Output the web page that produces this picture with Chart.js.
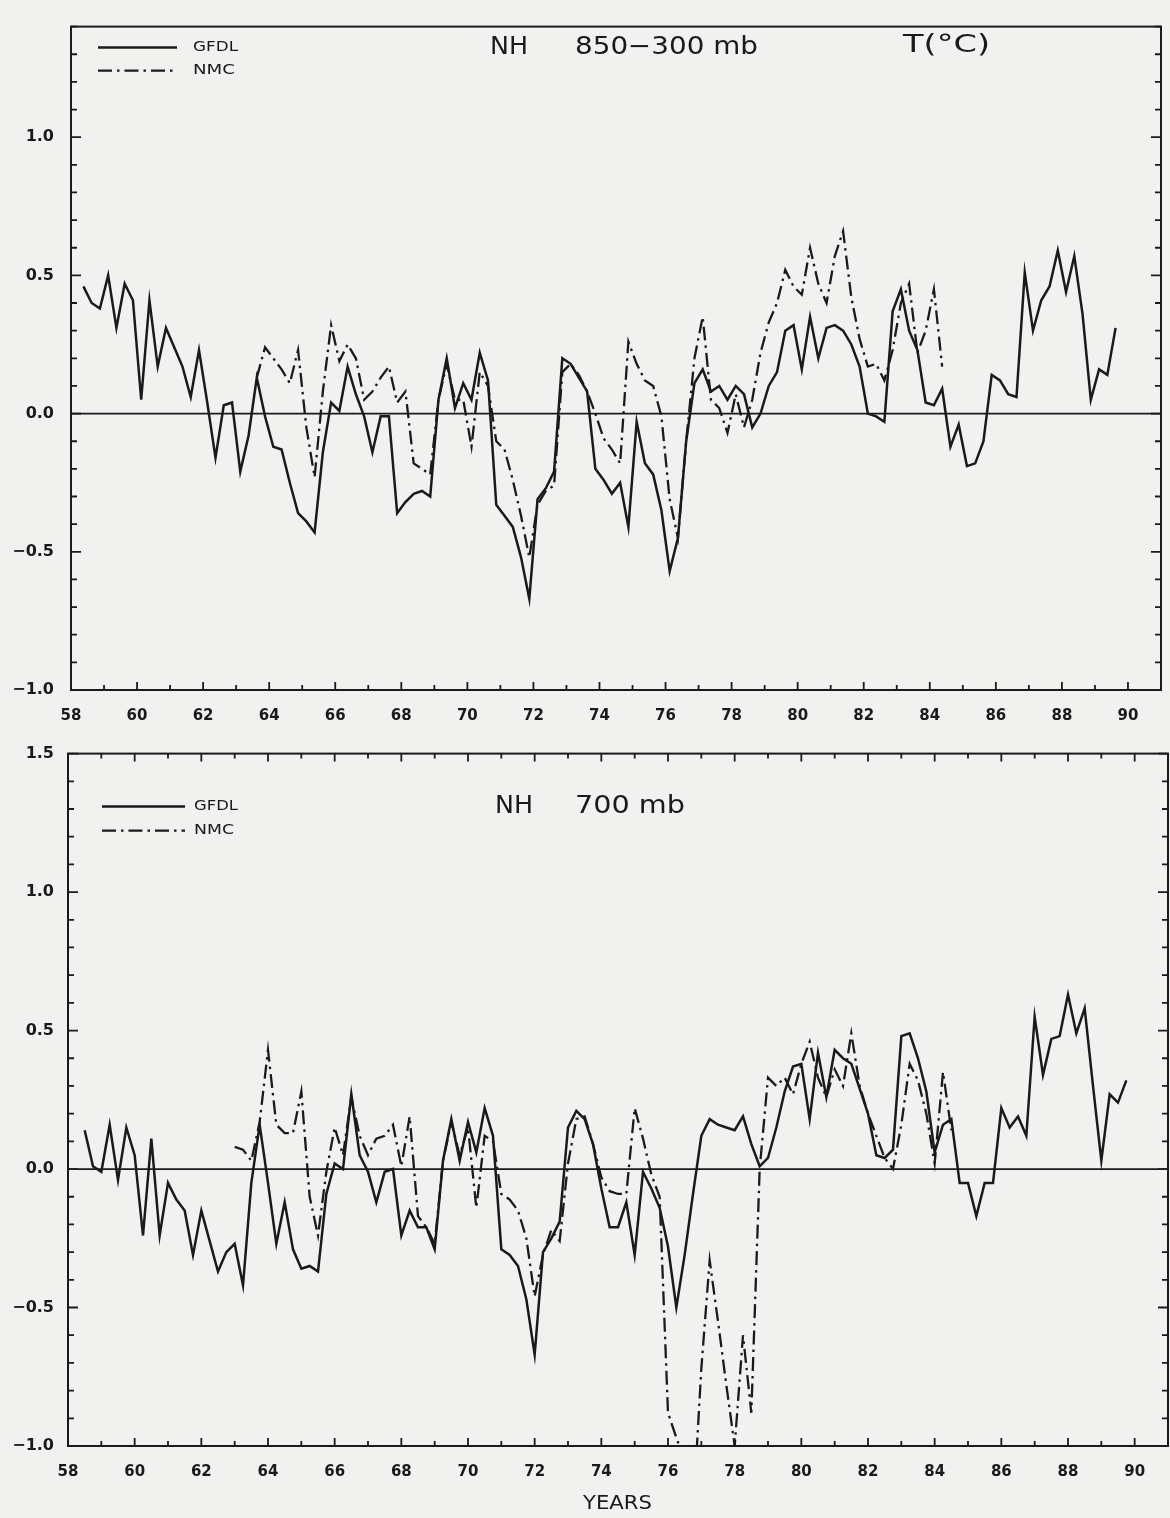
<!DOCTYPE html>
<html>
<head>
<meta charset="utf-8">
<script src="https://cdn.jsdelivr.net/npm/chart.js@4.4.1/dist/chart.umd.min.js"></script>
<style>
  html, body { margin: 0; padding: 0; background: #f1f2f0; }
  #page { position: relative; width: 1170px; height: 1518px; overflow: hidden; }
  #topWrap { position: absolute; left: 0; top: 0; }
  #lowWrap { position: absolute; left: 0; top: 730px; }
</style>
</head>
<body>
<div id="page">
  <div id="topWrap"><canvas id="topChart" width="1170" height="735"></canvas></div>
  <div id="lowWrap"><canvas id="lowChart" width="1170" height="788"></canvas></div>
</div>
<script>
// seasonal means, one value every quarter year
const firstSeasonTop = 58.375;
const firstSeasonLow = 58.5;
const seasonStep = 0.25;

const xTickLabels = [58, 60, 62, 64, 66, 68, 70, 72, 74, 76, 78, 80, 82, 84, 86, 88, 90];
const yTicksTop = [-1.0, -0.5, 0.0, 0.5, 1.0];
const yTicksLow = [-1.0, -0.5, 0.0, 0.5, 1.0, 1.5];

// NH 850-300 mb
const gfdlTop = [
  0.46, 0.40, 0.38, 0.50, 0.31, 0.47, 0.41, 0.05, 0.41, 0.17,
  0.31, 0.24, 0.17, 0.06, 0.23, 0.04, -0.16, 0.03, 0.04, -0.21,
  -0.08, 0.13, -0.01, -0.12, -0.13, -0.25, -0.36, -0.39, -0.43, -0.14,
  0.04, 0.01, 0.17, 0.07, -0.01, -0.14, -0.01, -0.01, -0.36, -0.32,
  -0.29, -0.28, -0.30, 0.05, 0.20, 0.02, 0.11, 0.05, 0.22, 0.12,
  -0.33, -0.37, -0.41, -0.52, -0.67, -0.31, -0.27, -0.21, 0.20, 0.18,
  0.13, 0.08, -0.20, -0.24, -0.29, -0.25, -0.41, -0.03, -0.18, -0.22,
  -0.35, -0.57, -0.45, -0.10, 0.11, 0.16, 0.08, 0.10, 0.05, 0.10,
  0.07, -0.05, 0.00, 0.10, 0.15, 0.30, 0.32, 0.16, 0.35, 0.20,
  0.31, 0.32, 0.30, 0.25, 0.17, 0.00, -0.01, -0.03, 0.37, 0.45,
  0.30, 0.23, 0.04, 0.03, 0.09, -0.12, -0.04, -0.19, -0.18, -0.10,
  0.14, 0.12, 0.07, 0.06, 0.51, 0.30, 0.41, 0.46, 0.59, 0.44,
  0.57, 0.36, 0.05, 0.16, 0.14, 0.31
];
const nmcTopStart = 21;
const nmcTop = [
  0.13, 0.24, 0.20, 0.16, 0.11, 0.23, -0.05, -0.23, 0.08, 0.32,
  0.19, 0.25, 0.20, 0.05, 0.08, 0.13, 0.17, 0.04, 0.08, -0.18,
  -0.20, -0.22, 0.05, 0.18, 0.05, 0.05, -0.12, 0.15, 0.10, -0.10,
  -0.13, -0.24, -0.37, -0.52, -0.33, -0.28, -0.26, 0.15, 0.18, 0.14,
  0.08, 0.00, -0.09, -0.13, -0.18, 0.26, 0.18, 0.12, 0.10, -0.01,
  -0.31, -0.45, -0.10, 0.20, 0.35, 0.05, 0.02, -0.07, 0.07, -0.05,
  0.05, 0.22, 0.33, 0.40, 0.52, 0.46, 0.43, 0.60, 0.47, 0.40,
  0.57, 0.66, 0.42, 0.27, 0.17, 0.18, 0.12, 0.23, 0.40, 0.47,
  0.22, 0.30, 0.45, 0.17
];

// NH 700 mb
const gfdlLow = [
  0.14, 0.01, -0.01, 0.16, -0.04, 0.15, 0.05, -0.24, 0.11, -0.24,
  -0.05, -0.11, -0.15, -0.31, -0.15, -0.26, -0.37, -0.30, -0.27, -0.42,
  -0.05, 0.16, -0.05, -0.27, -0.12, -0.29, -0.36, -0.35, -0.37, -0.09,
  0.02, 0.00, 0.27, 0.05, -0.01, -0.12, -0.01, 0.00, -0.24, -0.15,
  -0.21, -0.21, -0.29, 0.03, 0.18, 0.03, 0.17, 0.06, 0.22, 0.12,
  -0.29, -0.31, -0.35, -0.47, -0.67, -0.30, -0.25, -0.19, 0.15, 0.21,
  0.18, 0.09, -0.07, -0.21, -0.21, -0.12, -0.31, -0.01, -0.07, -0.14,
  -0.28, -0.50, -0.31, -0.09, 0.12, 0.18, 0.16, 0.15, 0.14, 0.19,
  0.09, 0.01, 0.04, 0.15, 0.28, 0.37, 0.38, 0.18, 0.42, 0.26,
  0.43, 0.40, 0.38, 0.29, 0.20, 0.05, 0.04, 0.07, 0.48, 0.49,
  0.40, 0.28, 0.06, 0.16, 0.18, -0.05, -0.05, -0.17, -0.05, -0.05,
  0.22, 0.15, 0.19, 0.12, 0.55, 0.34, 0.47, 0.48, 0.63, 0.49,
  0.58, 0.30, 0.03, 0.27, 0.24, 0.32
];
const nmcLowStart = 18;
const nmcLow = [
  0.08, 0.07, 0.03, 0.17, 0.43, 0.16, 0.13, 0.13, 0.28, -0.10,
  -0.24, -0.01, 0.15, 0.05, 0.26, 0.12, 0.05, 0.11, 0.12, 0.16,
  0.01, 0.19, -0.17, -0.21, -0.27, 0.03, 0.17, 0.05, 0.15, -0.14,
  0.12, 0.10, -0.09, -0.11, -0.15, -0.25, -0.46, -0.31, -0.22, -0.26,
  0.02, 0.18, 0.19, 0.09, -0.03, -0.08, -0.09, -0.09, 0.22, 0.11,
  -0.02, -0.10, -0.88, -0.97, -1.05, -1.25, -0.72, -0.33, -0.55, -0.78,
  -1.00, -0.60, -0.88, 0.00, 0.33, 0.30, 0.33, 0.27, 0.38, 0.46,
  0.33, 0.26, 0.36, 0.30, 0.49, 0.30, 0.20, 0.12, 0.04, 0.00,
  0.16, 0.38, 0.32, 0.20, 0.02, 0.35, 0.14
];

const ink = '#1a1a1a';
const fontFamily = '"DejaVu Sans", Verdana, sans-serif';

function seasonPoints(vals, first, start) {
  return vals.map((v, i) => ({ x: first + (start + i) * seasonStep, y: v }));
}

function fmtY(v) {
  return (v < 0 ? '\u2212' : '') + Math.abs(v).toFixed(1);
}

// draws text stretched to a given width (plotter lettering is wide)
function fitText(ctx, text, x, y, width) {
  const w = ctx.measureText(text).width;
  ctx.save();
  ctx.translate(x, y);
  ctx.scale(width / w, 1);
  ctx.fillText(text, 0, 0);
  ctx.restore();
}

const plotterFrame = {
  id: 'plotterFrame',
  beforeDatasetsDraw(chart) {
    const { ctx, chartArea: a, scales: { y } } = chart;
    const y0 = y.getPixelForValue(0);
    ctx.save();
    ctx.strokeStyle = ink;
    ctx.lineWidth = 1.8;
    ctx.beginPath();
    ctx.moveTo(a.left, y0);
    ctx.lineTo(a.right, y0);
    ctx.stroke();
    ctx.restore();
  },
  afterDraw(chart, args, opts) {
    const { ctx, chartArea: a, scales: { x, y } } = chart;
    ctx.save();
    ctx.strokeStyle = ink;
    ctx.fillStyle = ink;
    ctx.lineWidth = 2;
    ctx.strokeRect(a.left, a.top, a.right - a.left, a.bottom - a.top);

    // inward ticks: every 0.1 on the value axis, every year on the time axis
    ctx.lineWidth = 1.8;
    ctx.beginPath();
    for (let k = Math.round(y.min * 10); k <= Math.round(y.max * 10); k++) {
      const py = y.getPixelForValue(k / 10);
      const len = k % 5 === 0 ? 10 : 6;
      ctx.moveTo(a.left, py); ctx.lineTo(a.left + len, py);
      ctx.moveTo(a.right, py); ctx.lineTo(a.right - len, py);
    }
    for (let yr = Math.ceil(x.min); yr <= Math.floor(x.max); yr++) {
      const px = x.getPixelForValue(yr);
      const len = yr % 2 === 0 ? 8 : 5;
      ctx.moveTo(px, a.bottom); ctx.lineTo(px, a.bottom - len);
      if (opts.topTicks) { ctx.moveTo(px, a.top); ctx.lineTo(px, a.top + len); }
    }
    ctx.stroke();

    // legend, drawn with each dataset's own line style
    const lg = opts.legend;
    ctx.font = '14px ' + fontFamily;
    ctx.textBaseline = 'middle';
    ctx.textAlign = 'left';
    chart.data.datasets.forEach((ds, k) => {
      const ly = a.top + lg.y + k * lg.gap;
      ctx.lineWidth = ds.borderWidth;
      ctx.setLineDash(ds.borderDash || []);
      ctx.beginPath();
      ctx.moveTo(a.left + lg.x0, ly);
      ctx.lineTo(a.left + lg.x1, ly);
      ctx.stroke();
      ctx.setLineDash([]);
      fitText(ctx, ds.label, a.left + lg.textX, ly, lg.textW[k]);
    });

    // panel titles
    opts.titles.forEach(t => {
      ctx.font = (t.size || 25) + 'px ' + fontFamily;
      fitText(ctx, t.text, a.left + t.x, a.top + t.y, t.w);
    });
    ctx.restore();
  }
};

function makePanel(id, cfg) {
  return new Chart(document.getElementById(id), {
    type: 'line',
    data: {
      datasets: [
        {
          label: 'GFDL',
          data: seasonPoints(cfg.gfdl, cfg.firstSeason, 0),
          borderColor: ink,
          borderWidth: 2.5,
          pointRadius: 0,
          tension: 0,
        },
        {
          label: 'NMC',
          data: seasonPoints(cfg.nmc, cfg.firstSeason, cfg.nmcStart),
          borderColor: ink,
          borderWidth: 2.3,
          borderDash: [14, 5, 2.5, 5],
          pointRadius: 0,
          tension: 0,
        },
      ],
    },
    options: {
      responsive: false,
      animation: false,
      events: [],
      layout: { padding: cfg.padding },
      plugins: {
        legend: { display: false },
        tooltip: { enabled: false },
        plotterFrame: cfg.frame,
      },
      scales: {
        x: {
          type: 'linear',
          min: 58,
          max: 91,
          grid: { display: false, drawTicks: false },
          border: { display: false },
          afterBuildTicks: s => { s.ticks = xTickLabels.map(v => ({ value: v })); },
          afterFit: s => { s.height = cfg.xHeight; },
          ticks: {
            padding: 17,
            color: ink,
            autoSkip: false,
            maxRotation: 0,
            font: { family: fontFamily, size: 15, weight: 'bold' },
            callback: v => String(v),
          },
        },
        y: {
          type: 'linear',
          min: -1,
          max: cfg.yMax,
          grid: { display: false, drawTicks: false },
          border: { display: false },
          afterBuildTicks: s => { s.ticks = cfg.yTicks.map(v => ({ value: v })); },
          afterFit: s => { s.width = cfg.yWidth; },
          ticks: {
            padding: cfg.yPad,
            color: ink,
            font: { family: fontFamily, size: 16, weight: 'bold' },
            callback: v => fmtY(v),
          },
        },
      },
    },
    plugins: [plotterFrame],
  });
}

makePanel('topChart', {
  gfdl: gfdlTop,
  nmc: nmcTop,
  nmcStart: nmcTopStart,
  firstSeason: firstSeasonTop,
  yMax: 1.4,
  yTicks: yTicksTop,
  yWidth: 71,
  yPad: 17,
  xHeight: 45,
  padding: { top: 15, right: 9, left: 0, bottom: 0 },
  frame: {
    topTicks: false,
    legend: { x0: 27, x1: 106, y: 21, gap: 23, textX: 122, textW: [45, 42] },
    titles: [
      { text: 'NH', x: 419, y: 21, w: 38 },
      { text: '850\u2212300 mb', x: 504, y: 21, w: 183 },
      { text: 'T(\u00B0C)', x: 832, y: 19, w: 87 },
    ],
  },
});

makePanel('lowChart', {
  gfdl: gfdlLow,
  nmc: nmcLow,
  nmcStart: nmcLowStart,
  firstSeason: firstSeasonLow,
  yMax: 1.5,
  yTicks: yTicksLow,
  yWidth: 68,
  yPad: 14,
  xHeight: 72,
  padding: { top: 14, right: 2, left: 0, bottom: 0 },
  frame: {
    topTicks: true,
    legend: { x0: 34, x1: 117, y: 53, gap: 24, textX: 126, textW: [44, 40] },
    titles: [
      { text: 'NH', x: 427, y: 53, w: 38 },
      { text: '700 mb', x: 507, y: 53, w: 110 },
      { text: 'YEARS', x: 515, y: 750, w: 69, size: 20 },
    ],
  },
});
</script>
</body>
</html>
